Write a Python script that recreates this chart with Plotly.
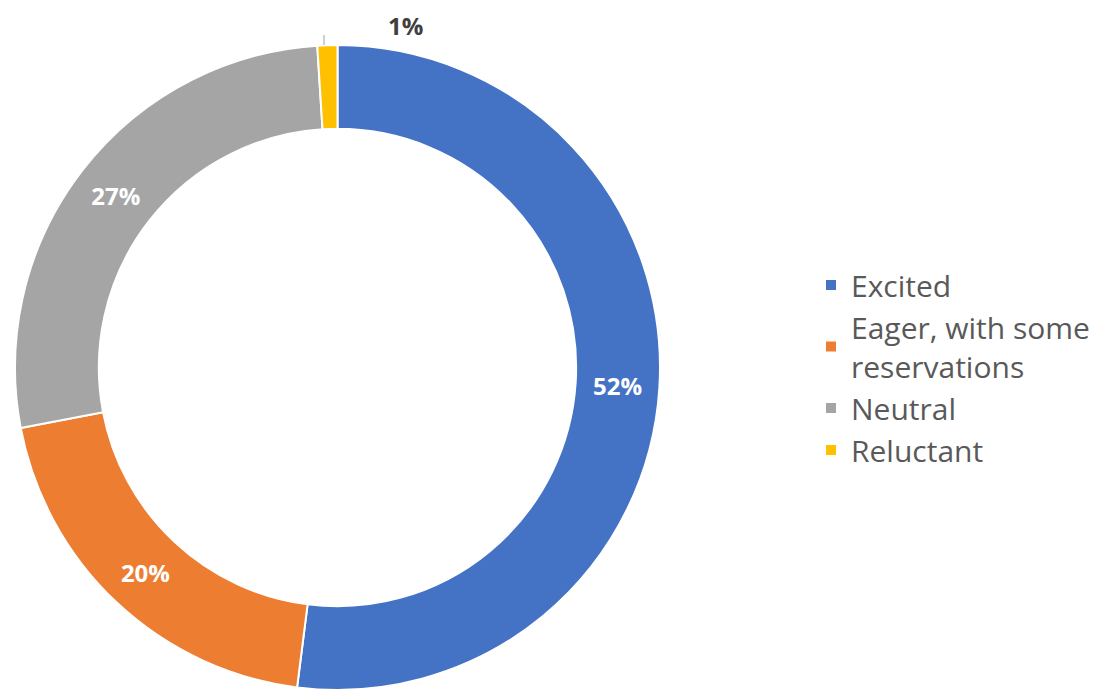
import plotly.graph_objects as go

labels = ["Excited", "Eager, with some<br>reservations", "Neutral", "Reluctant"]
values = [52, 20, 27, 1]
colors = ["#4472C4", "#ED7D31", "#A5A5A5", "#FFC000"]
inside_labels = ["52%", "20%", "27%", ""]
outside_label = "1%"

OFF = 8  # page body margin
W, H = 1104 - OFF, 694 - OFF
cx, cy, r = 337.5 - OFF, 367.5 - OFF, 322.5


def px(x):
    return (x - OFF) / W


def py(y):
    return 1 - (y - OFF) / H


fig = go.Figure(go.Pie(
    labels=labels,
    values=values,
    text=inside_labels,
    textinfo="text",
    textposition="inside",
    insidetextorientation="horizontal",
    textfont=dict(family="Open Sans", size=24, color="white", weight="bold"),
    hole=0.74,
    sort=False,
    direction="clockwise",
    rotation=0,
    marker=dict(colors=colors, line=dict(color="white", width=2)),
    domain=dict(x=[(cx - r) / W, (cx + r) / W], y=[(H - cy - r) / H, (H - cy + r) / H]),
    showlegend=True,
))

fig.add_annotation(
    text=outside_label, x=px(406), y=1, xref="paper", yref="paper",
    xanchor="center", yanchor="top", borderpad=0,
    showarrow=False, font=dict(family="Open Sans", size=24, color="#404040", weight="bold"),
)
fig.add_shape(type="line", xref="paper", yref="paper",
              x0=px(324), x1=px(324), y0=py(35), y1=py(45),
              line=dict(color="#A0A0A0", width=1))

fig.update_layout(
    width=W, height=H,
    margin=dict(l=0, r=0, t=0, b=0),
    paper_bgcolor="white",
    plot_bgcolor="white",
    legend=dict(
        x=px(811), y=py(259), xanchor="left", yanchor="top",
        font=dict(family="Open Sans", size=30, color="#595959"),
        itemsizing="constant",
    ),
)

fig.write_html("out.html")
